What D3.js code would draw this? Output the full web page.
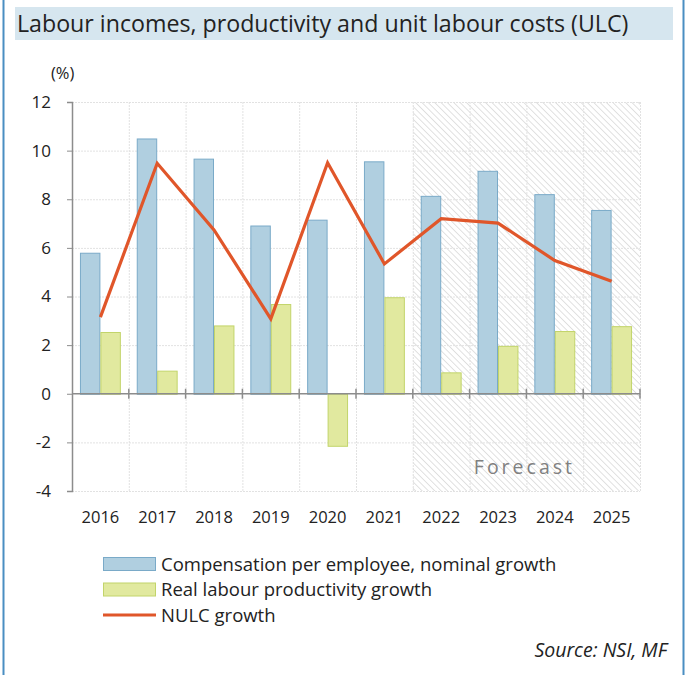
<!DOCTYPE html>
<html>
<head>
<meta charset="utf-8">
<script src="https://cdn.jsdelivr.net/npm/d3@7"></script>
<style>
  body { margin: 0; background: #fff; }
  text { font-family: "Open Sans", Lato, sans-serif; }
</style>
</head>
<body>
<div id="chart"></div>
<script>
// data
const years = ["2016", "2017", "2018", "2019", "2020", "2021", "2022", "2023", "2024", "2025"];
const compensation = [5.8, 10.5, 9.67, 6.92, 7.16, 9.56, 8.14, 9.17, 8.21, 7.56];
const productivity = [2.54, 0.95, 2.81, 3.69, -2.14, 3.97, 0.88, 1.97, 2.58, 2.78];
const nulc = [3.15, 9.48, 6.74, 3.08, 9.5, 5.34, 7.2, 7.02, 5.48, 4.63];
const yTicks = [-4, -2, 0, 2, 4, 6, 8, 10, 12];
const forecastFrom = "2022";

const width = 685;
const height = 675;
const margin = { top: 102, right: 45, bottom: 184, left: 72 };
const innerW = width - margin.left - margin.right;
const innerH = height - margin.top - margin.bottom;

const svg = d3.select("#chart")
    .append("svg")
    .attr("width", width)
    .attr("height", height);

// frame and title band
svg.append("line").attr("x1", 3.5).attr("x2", 3.5).attr("y1", 0).attr("y2", height)
    .attr("stroke", "#4a8ec2").attr("stroke-width", 2);
svg.append("line").attr("x1", 683.5).attr("x2", 683.5).attr("y1", 0).attr("y2", height)
    .attr("stroke", "#4a8ec2").attr("stroke-width", 2);
svg.append("rect").attr("x", 15).attr("y", 7).attr("width", 658).attr("height", 33)
    .attr("fill", "#d6e6ef");
svg.append("text").attr("x", 17).attr("y", 32)
    .attr("font-size", 23.2).attr("fill", "#222")
    .text("Labour incomes, productivity and unit labour costs (ULC)");

const defs = svg.append("defs");
const pat = defs.append("pattern")
    .attr("id", "hatch")
    .attr("patternUnits", "userSpaceOnUse")
    .attr("width", 4.5).attr("height", 4.5)
    .attr("patternTransform", "rotate(45)");
pat.append("rect").attr("width", 4.5).attr("height", 4.5).attr("fill", "#fff");
pat.append("line").attr("x1", 0).attr("y1", 0).attr("x2", 4.5).attr("y2", 0)
    .attr("stroke", "#dedede").attr("stroke-width", 1.8);

const g = svg.append("g").attr("transform", `translate(${margin.left},${margin.top})`);

const x = d3.scaleBand().domain(years).range([0, innerW]).paddingInner(0.28).paddingOuter(0.14);
const xCat = d3.scaleBand().domain(years).range([0, innerW]);
const xSub = d3.scaleBand().domain(["comp", "prod"]).range([0, x.bandwidth()]);
const y = d3.scaleLinear().domain([-4, 12]).range([innerH, 0]);

// forecast shading
const fx = xCat(forecastFrom);
g.append("rect")
    .attr("x", fx).attr("y", 0)
    .attr("width", innerW - fx).attr("height", innerH)
    .attr("fill", "url(#hatch)");

// gridlines
g.append("g").selectAll("line")
    .data(yTicks.filter(d => d !== 0))
    .join("line")
    .attr("x1", 0).attr("x2", innerW)
    .attr("y1", d => y(d) + 0.5).attr("y2", d => y(d) + 0.5)
    .attr("stroke", "#e2e2e2").attr("stroke-dasharray", "2,1");
g.append("g").selectAll("line")
    .data(years.slice(1).concat(["end"]))
    .join("line")
    .attr("x1", d => (d === "end" ? innerW : xCat(d)) + 0.5)
    .attr("x2", d => (d === "end" ? innerW : xCat(d)) + 0.5)
    .attr("y1", 0).attr("y2", innerH)
    .attr("stroke", "#e2e2e2").attr("stroke-dasharray", "2,1");

g.append("text")
    .attr("x", xCat("2022") + (innerW - fx) / 2 - 2).attr("y", y(-3) + 7)
    .attr("text-anchor", "middle")
    .attr("font-size", 19.5).attr("letter-spacing", 3)
    .attr("fill", "#808080")
    .text("Forecast");

// bars
const groups = g.append("g").selectAll("g")
    .data(years)
    .join("g")
    .attr("transform", d => `translate(${x(d)},0)`);

groups.append("rect")
    .attr("x", xSub("comp") + 0.5)
    .attr("y", (d, i) => y(Math.max(0, compensation[i])) + 0.5)
    .attr("width", xSub.bandwidth() - 1)
    .attr("height", (d, i) => Math.abs(y(compensation[i]) - y(0)))
    .attr("fill", "#b0cfe0").attr("stroke", "#7aaac8").attr("stroke-width", 1);

groups.append("rect")
    .attr("x", xSub("prod") + 0.5)
    .attr("y", (d, i) => y(Math.max(0, productivity[i])) + 0.5)
    .attr("width", xSub.bandwidth() - 1)
    .attr("height", (d, i) => Math.abs(y(productivity[i]) - y(0)))
    .attr("fill", "#e1e99f").attr("stroke", "#c2d46a").attr("stroke-width", 1);

// axes
const yAxis = g.append("g")
    .call(d3.axisLeft(y).tickValues(yTicks).tickSize(5).tickPadding(16)
        .tickFormat(d => String(d)));
yAxis.select(".domain").attr("stroke", "#8c8c8c").attr("stroke-width", 1.5);
yAxis.selectAll(".tick line").attr("stroke", "#8c8c8c").attr("x2", 0).attr("x1", 5)
    .attr("transform", "translate(-5,0)");
yAxis.selectAll(".tick text")
    .attr("font-family", "'Open Sans', Lato, sans-serif")
    .attr("font-size", 17).attr("fill", "#222");

const zero = g.append("g").attr("transform", `translate(0,${y(0)})`);
zero.append("line").attr("x1", 0).attr("x2", innerW)
    .attr("stroke", "#8c8c8c").attr("stroke-width", 1.5);
zero.selectAll(".tk")
    .data(years.slice(1).concat(["end"]))
    .join("line")
    .attr("class", "tk")
    .attr("x1", d => d === "end" ? innerW : xCat(d))
    .attr("x2", d => d === "end" ? innerW : xCat(d))
    .attr("y1", -5).attr("y2", 5)
    .attr("stroke", "#8c8c8c").attr("stroke-width", 1.5);

const xAxis = g.append("g")
    .attr("transform", `translate(0,${innerH})`)
    .call(d3.axisBottom(xCat).tickSize(0).tickPadding(20));
xAxis.select(".domain").remove();
xAxis.selectAll(".tick text")
    .attr("font-family", "'Open Sans', Lato, sans-serif")
    .attr("font-size", 16.5).attr("fill", "#222");

g.append("text").attr("x", -21).attr("y", -23)
    .attr("font-size", 16.5).attr("fill", "#222").text("(%)");

// NULC line
const line = d3.line()
    .x((d, i) => xCat(years[i]) + xCat.bandwidth() / 2)
    .y(d => y(d));
g.append("path")
    .datum(nulc)
    .attr("d", line)
    .attr("fill", "none")
    .attr("stroke", "#e0562a")
    .attr("stroke-width", 3.2)
    .attr("stroke-linejoin", "miter");

// legend
const legendItems = [
    { label: "Compensation per employee, nominal growth", type: "bar", fill: "#b0cfe0", stroke: "#7aaac8" },
    { label: "Real labour productivity growth", type: "bar", fill: "#e1e99f", stroke: "#c2d46a" },
    { label: "NULC growth", type: "line", stroke: "#e0562a" }
];
const legend = svg.append("g").attr("transform", "translate(103,564)");
const li = legend.selectAll("g")
    .data(legendItems)
    .join("g")
    .attr("transform", (d, i) => `translate(0,${i * 25.5})`);
li.filter(d => d.type === "bar").append("rect")
    .attr("x", 0.5).attr("y", -6.5).attr("width", 52).attr("height", 13)
    .attr("fill", d => d.fill).attr("stroke", d => d.stroke);
li.filter(d => d.type === "line").append("line")
    .attr("x1", 0).attr("x2", 53).attr("y1", 0).attr("y2", 0)
    .attr("stroke", d => d.stroke).attr("stroke-width", 3.2);
li.append("text")
    .attr("x", 58).attr("y", 6.5)
    .attr("font-size", 18.5).attr("fill", "#222")
    .text(d => d.label);

svg.append("text")
    .attr("x", 667).attr("y", 657)
    .attr("text-anchor", "end")
    .attr("font-size", 19.5).attr("font-style", "italic").attr("fill", "#222")
    .text("Source: NSI, MF");
</script>
</body>
</html>
